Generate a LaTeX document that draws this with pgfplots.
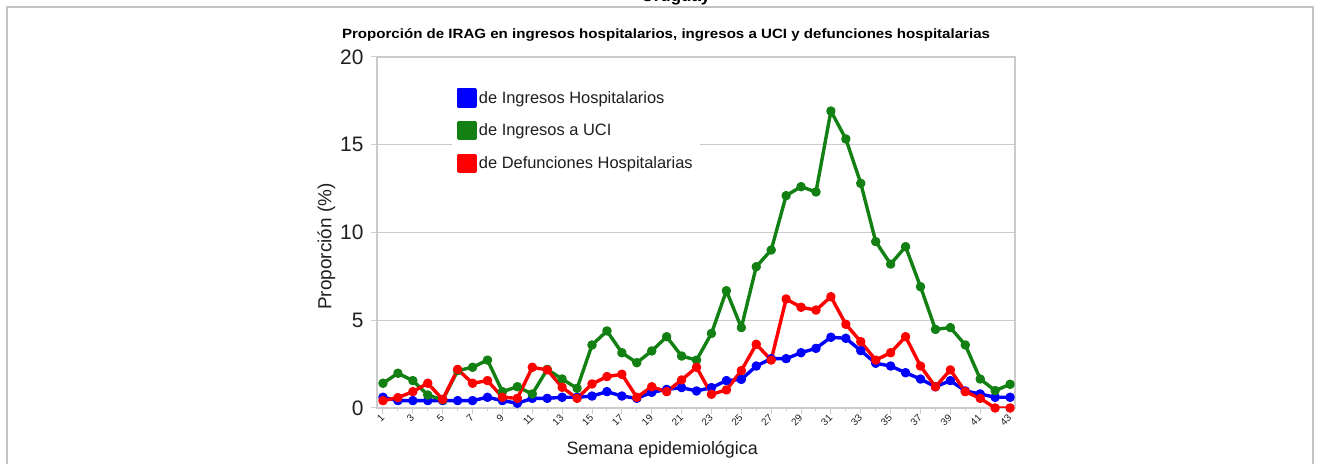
\documentclass[border=0pt]{standalone}
\usepackage{pgfplots}
\pgfplotsset{compat=1.18}
\usepackage{fontspec}
\setmainfont{Liberation Sans}
\definecolor{gridgray}{RGB}{204,204,204}
\definecolor{framegray}{RGB}{195,195,195}
\definecolor{uciGreen}{RGB}{18,128,18}
\definecolor{hospBlue}{RGB}{0,0,255}
\definecolor{defRed}{RGB}{255,0,0}
\definecolor{txt}{RGB}{30,30,30}

\pgfplotstableread{
w v
1 0.61
2 0.42
3 0.42
4 0.42
5 0.42
6 0.42
7 0.42
8 0.61
9 0.42
10 0.27
11 0.55
12 0.55
13 0.61
14 0.61
15 0.68
16 0.93
17 0.68
18 0.55
19 0.89
20 1.06
21 1.16
22 0.97
23 1.16
24 1.56
25 1.63
26 2.39
27 2.81
28 2.81
29 3.15
30 3.40
31 4.03
32 3.97
33 3.27
34 2.55
35 2.39
36 2.01
37 1.65
38 1.21
39 1.56
40 0.97
41 0.80
42 0.61
43 0.61
}\hosp

\pgfplotstableread{
w v
1 1.41
2 1.98
3 1.56
4 0.74
5 0.46
6 2.13
7 2.32
8 2.73
9 0.93
10 1.21
11 0.80
12 2.20
13 1.65
14 1.12
15 3.59
16 4.39
17 3.15
18 2.58
19 3.25
20 4.06
21 2.96
22 2.73
23 4.25
24 6.68
25 4.58
26 8.05
27 9.00
28 12.10
29 12.61
30 12.31
31 16.92
32 15.33
33 12.80
34 9.48
35 8.20
36 9.19
37 6.91
38 4.48
39 4.58
40 3.59
41 1.65
42 0.99
43 1.35
}\uci

\pgfplotstableread{
w v
1 0.42
2 0.59
3 0.93
4 1.41
5 0.49
6 2.20
7 1.41
8 1.56
9 0.61
10 0.55
11 2.32
12 2.17
13 1.18
14 0.55
15 1.37
16 1.79
17 1.92
18 0.61
19 1.21
20 0.93
21 1.60
22 2.32
23 0.78
24 1.03
25 2.13
26 3.63
27 2.73
28 6.21
29 5.74
30 5.58
31 6.34
32 4.77
33 3.78
34 2.73
35 3.15
36 4.06
37 2.39
38 1.21
39 2.17
40 0.93
41 0.55
42 0.00
43 0.00
}\defu

\begin{document}
\begin{tikzpicture}[x=1bp,y=1bp]
\useasboundingbox (0,0) rectangle (1320,464);
\clip (0,0) rectangle (1320,464);
\draw[framegray, line width=2bp] (7,-5) -- (7,456.5) -- (1313,456.5) -- (1313,-5);
\node[font=\bfseries\fontsize{17}{20}\selectfont, anchor=base, inner sep=0] at (676,462) {Uruguay};
\node[anchor=base, inner sep=0] at (666,425) {\resizebox{648bp}{\height}{\bfseries\fontsize{13.5}{16}\selectfont Proporción de IRAG en ingresos hospitalarios, ingresos a UCI y defunciones hospitalarias}};

\begin{axis}[
  at={(377bp,56bp)}, anchor=south west,
  scale only axis, width=638bp, height=351bp,
  xmin=0.6, xmax=43.33, ymin=0, ymax=20,
  ytick={0,5,10,15,20},
  xtick={1,3,...,43}, minor xtick={2,4,...,42},
  ymajorgrids, grid style={gridgray, line width=1.3bp},
  axis line style={gridgray, line width=1.3bp},
  tick align=outside, tick pos=left,
  major tick length=6bp, minor tick length=3bp,
  every tick/.style={gridgray, line width=1bp},
  /pgf/number format/assume math mode=true,
  yticklabel style={font=\fontsize{21}{24}\selectfont, text=txt, xshift=-4bp},
  xticklabel style={font=\fontsize{10}{12}\selectfont, text=txt, rotate=45, anchor=east, xshift=2bp, yshift=-1bp},
  ylabel={Proporción (\%)},
  ylabel style={font=\fontsize{19}{22}\selectfont, text=txt, at={(ticklabel cs:0.46)}, yshift=-2bp},
  xlabel={Semana epidemiológica},
  xlabel style={font=\fontsize{18}{21}\selectfont, text=txt, at={(axis description cs:0.447,0)}, anchor=center, yshift=-42bp},
  legend image code/.code={\fill[#1] (0bp,-8bp) rectangle (17bp,8bp);},
  legend style={at={(axis description cs:0.1165,0.929)}, anchor=north west,
    fill=white, draw=none, inner xsep=5bp, inner ysep=6bp,
    font=\fontsize{16.5}{19}\selectfont, text=txt, row sep=13.5bp,
    /tikz/every even column/.append style={column sep=2bp}},
  legend cell align=left,
  every axis plot/.append style={line width=3.4bp, mark=*, mark size=3bp, line join=round},
]
\addlegendimage{hospBlue}
\addlegendentry{de Ingresos Hospitalarios}
\addlegendimage{uciGreen}
\addlegendentry{de Ingresos a UCI}
\addlegendimage{defRed}
\addlegendentry{de Defunciones Hospitalarias}
\addplot[hospBlue, forget plot] table[x=w, y=v] {\hosp};
\addplot[uciGreen, forget plot] table[x=w, y=v] {\uci};
\addplot[defRed, forget plot] table[x=w, y=v] {\defu};
\end{axis}
\end{tikzpicture}
\end{document}
